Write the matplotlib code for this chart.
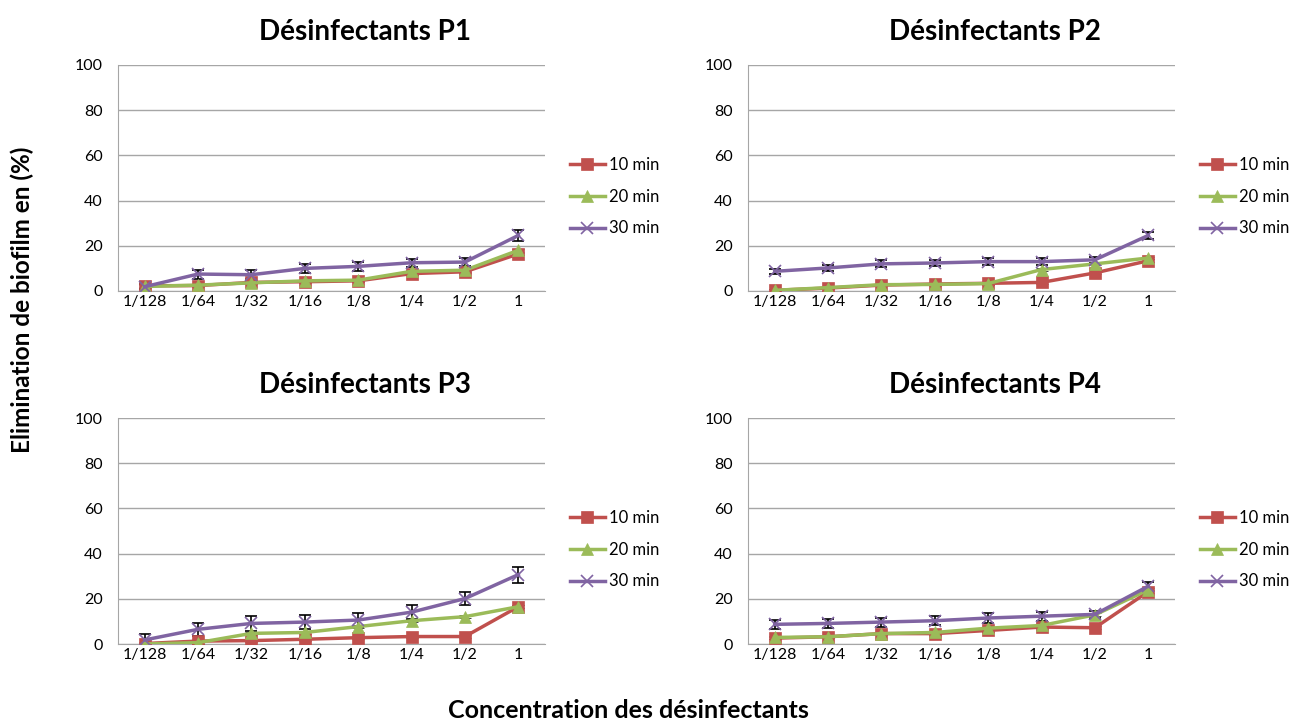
import matplotlib.pyplot as plt

plt.rcParams['font.family'] = ['Lato', 'DejaVu Sans']

concentrations = ["1/128", "1/64", "1/32", "1/16", "1/8", "1/4", "1/2", "1"]
temps = ["10 min", "20 min", "30 min"]

# elimination du biofilm (%) par produit et temps de contact
p1_10 = [2.3, 2.4, 3.8, 4.1, 4.5, 7.7, 8.5, 16.4]
p1_20 = [2.0, 2.6, 3.6, 4.5, 4.8, 8.7, 9.2, 18.0]
p1_30 = [1.9, 7.5, 7.2, 10.0, 10.9, 12.5, 12.8, 24.6]

p2_10 = [0.3, 1.3, 2.6, 3.1, 3.4, 3.8, 8.0, 13.4]
p2_20 = [0.3, 1.5, 2.8, 2.9, 3.3, 9.5, 12.0, 14.6]
p2_30 = [8.7, 10.2, 12.0, 12.4, 13.0, 13.0, 13.8, 24.6]

p3_10 = [0.2, 1.3, 1.5, 2.1, 2.8, 3.3, 3.3, 16.5]
p3_20 = [0.0, 0.6, 4.7, 5.1, 7.7, 10.3, 12.1, 16.5]
p3_30 = [1.8, 6.5, 9.1, 9.7, 10.6, 14.1, 20.1, 30.7]

p4_10 = [2.6, 3.2, 4.6, 4.6, 6.0, 7.5, 7.2, 23.2]
p4_20 = [2.9, 3.2, 4.6, 5.1, 7.0, 8.2, 12.9, 24.0]
p4_30 = [8.7, 9.1, 9.7, 10.3, 11.5, 12.3, 13.1, 25.6]

# ecarts-types
p1_err = [1.0, 2.0, 2.0, 2.0, 2.0, 1.8, 1.8, 2.5]
p2_err = [1.2, 1.5, 1.5, 1.5, 1.5, 1.5, 1.2, 1.5]
p3_err = [2.5, 3.0, 3.5, 3.0, 3.0, 3.0, 3.0, 3.5]
p4_err = [2.0, 2.0, 2.0, 2.0, 2.0, 2.0, 1.5, 2.0]
small_err = [0.6] * 8

panels = [
    ("Désinfectants P1", p1_10, p1_20, p1_30, p1_err),
    ("Désinfectants P2", p2_10, p2_20, p2_30, p2_err),
    ("Désinfectants P3", p3_10, p3_20, p3_30, p3_err),
    ("Désinfectants P4", p4_10, p4_20, p4_30, p4_err),
]

colors = ["#c0504d", "#9bbb59", "#8064a2"]
markers = ["s", "^", "x"]

W, H = 1293, 720
fig = plt.figure(figsize=(W / 100, H / 100), dpi=100)

# position des axes en pixels (gauche, haut)
boxes = [(118, 65), (748, 65), (118, 418), (748, 418)]
aw, ah = 427, 226

x = list(range(len(concentrations)))
for (title, s10, s20, s30, err), (left, top) in zip(panels, boxes):
    ax = fig.add_axes([left / W, 1 - (top + ah) / H, aw / W, ah / H])
    for vals, e, c, m, lab in zip([s10, s20, s30], [small_err, small_err, err],
                                  colors, markers, temps):
        ax.errorbar(x, vals, yerr=e, color=c, marker=m, markersize=8,
                    markeredgewidth=1.2 if m == "x" else 0.5, lw=2.5,
                    ecolor="black", elinewidth=1.2, capsize=4, capthick=1.2,
                    label=lab, zorder=3)
    ax.set_xlim(-0.5, 7.5)
    ax.set_ylim(0, 100)
    ax.set_yticks(range(0, 101, 20))
    ax.set_xticks(x)
    ax.set_xticklabels(concentrations)
    ax.grid(axis="y", color="#a6a6a6", lw=1)
    ax.set_axisbelow(True)
    for s in ["top", "right"]:
        ax.spines[s].set_visible(False)
    for s in ["left", "bottom"]:
        ax.spines[s].set_color("#a6a6a6")
    ax.tick_params(axis="both", labelsize=11.5, length=0)
    ax.tick_params(axis="y", pad=11)
    ax.tick_params(axis="x", pad=3)
    ax.set_title(title, fontsize=20, fontweight="bold", pad=18, x=0.578)
    handles, labels = ax.get_legend_handles_labels()
    handles = [h[0] for h in handles]
    ax.legend(handles, labels, loc="center left", bbox_to_anchor=(1.058, 0.418),
              frameon=False, fontsize=12, handlelength=2.1,
              labelspacing=0.95, handletextpad=0.25, borderaxespad=0,
              borderpad=0)

fig.text(22 / W, 1 - 300 / H, "Elimination de biofilm en (%)", rotation=90,
         ha="center", va="center", fontsize=17.5, fontweight="bold")
fig.text(628 / W, 1 - 711 / H, "Concentration des désinfectants",
         ha="center", va="center", fontsize=18, fontweight="bold")

fig.savefig("out.png", dpi=100)
